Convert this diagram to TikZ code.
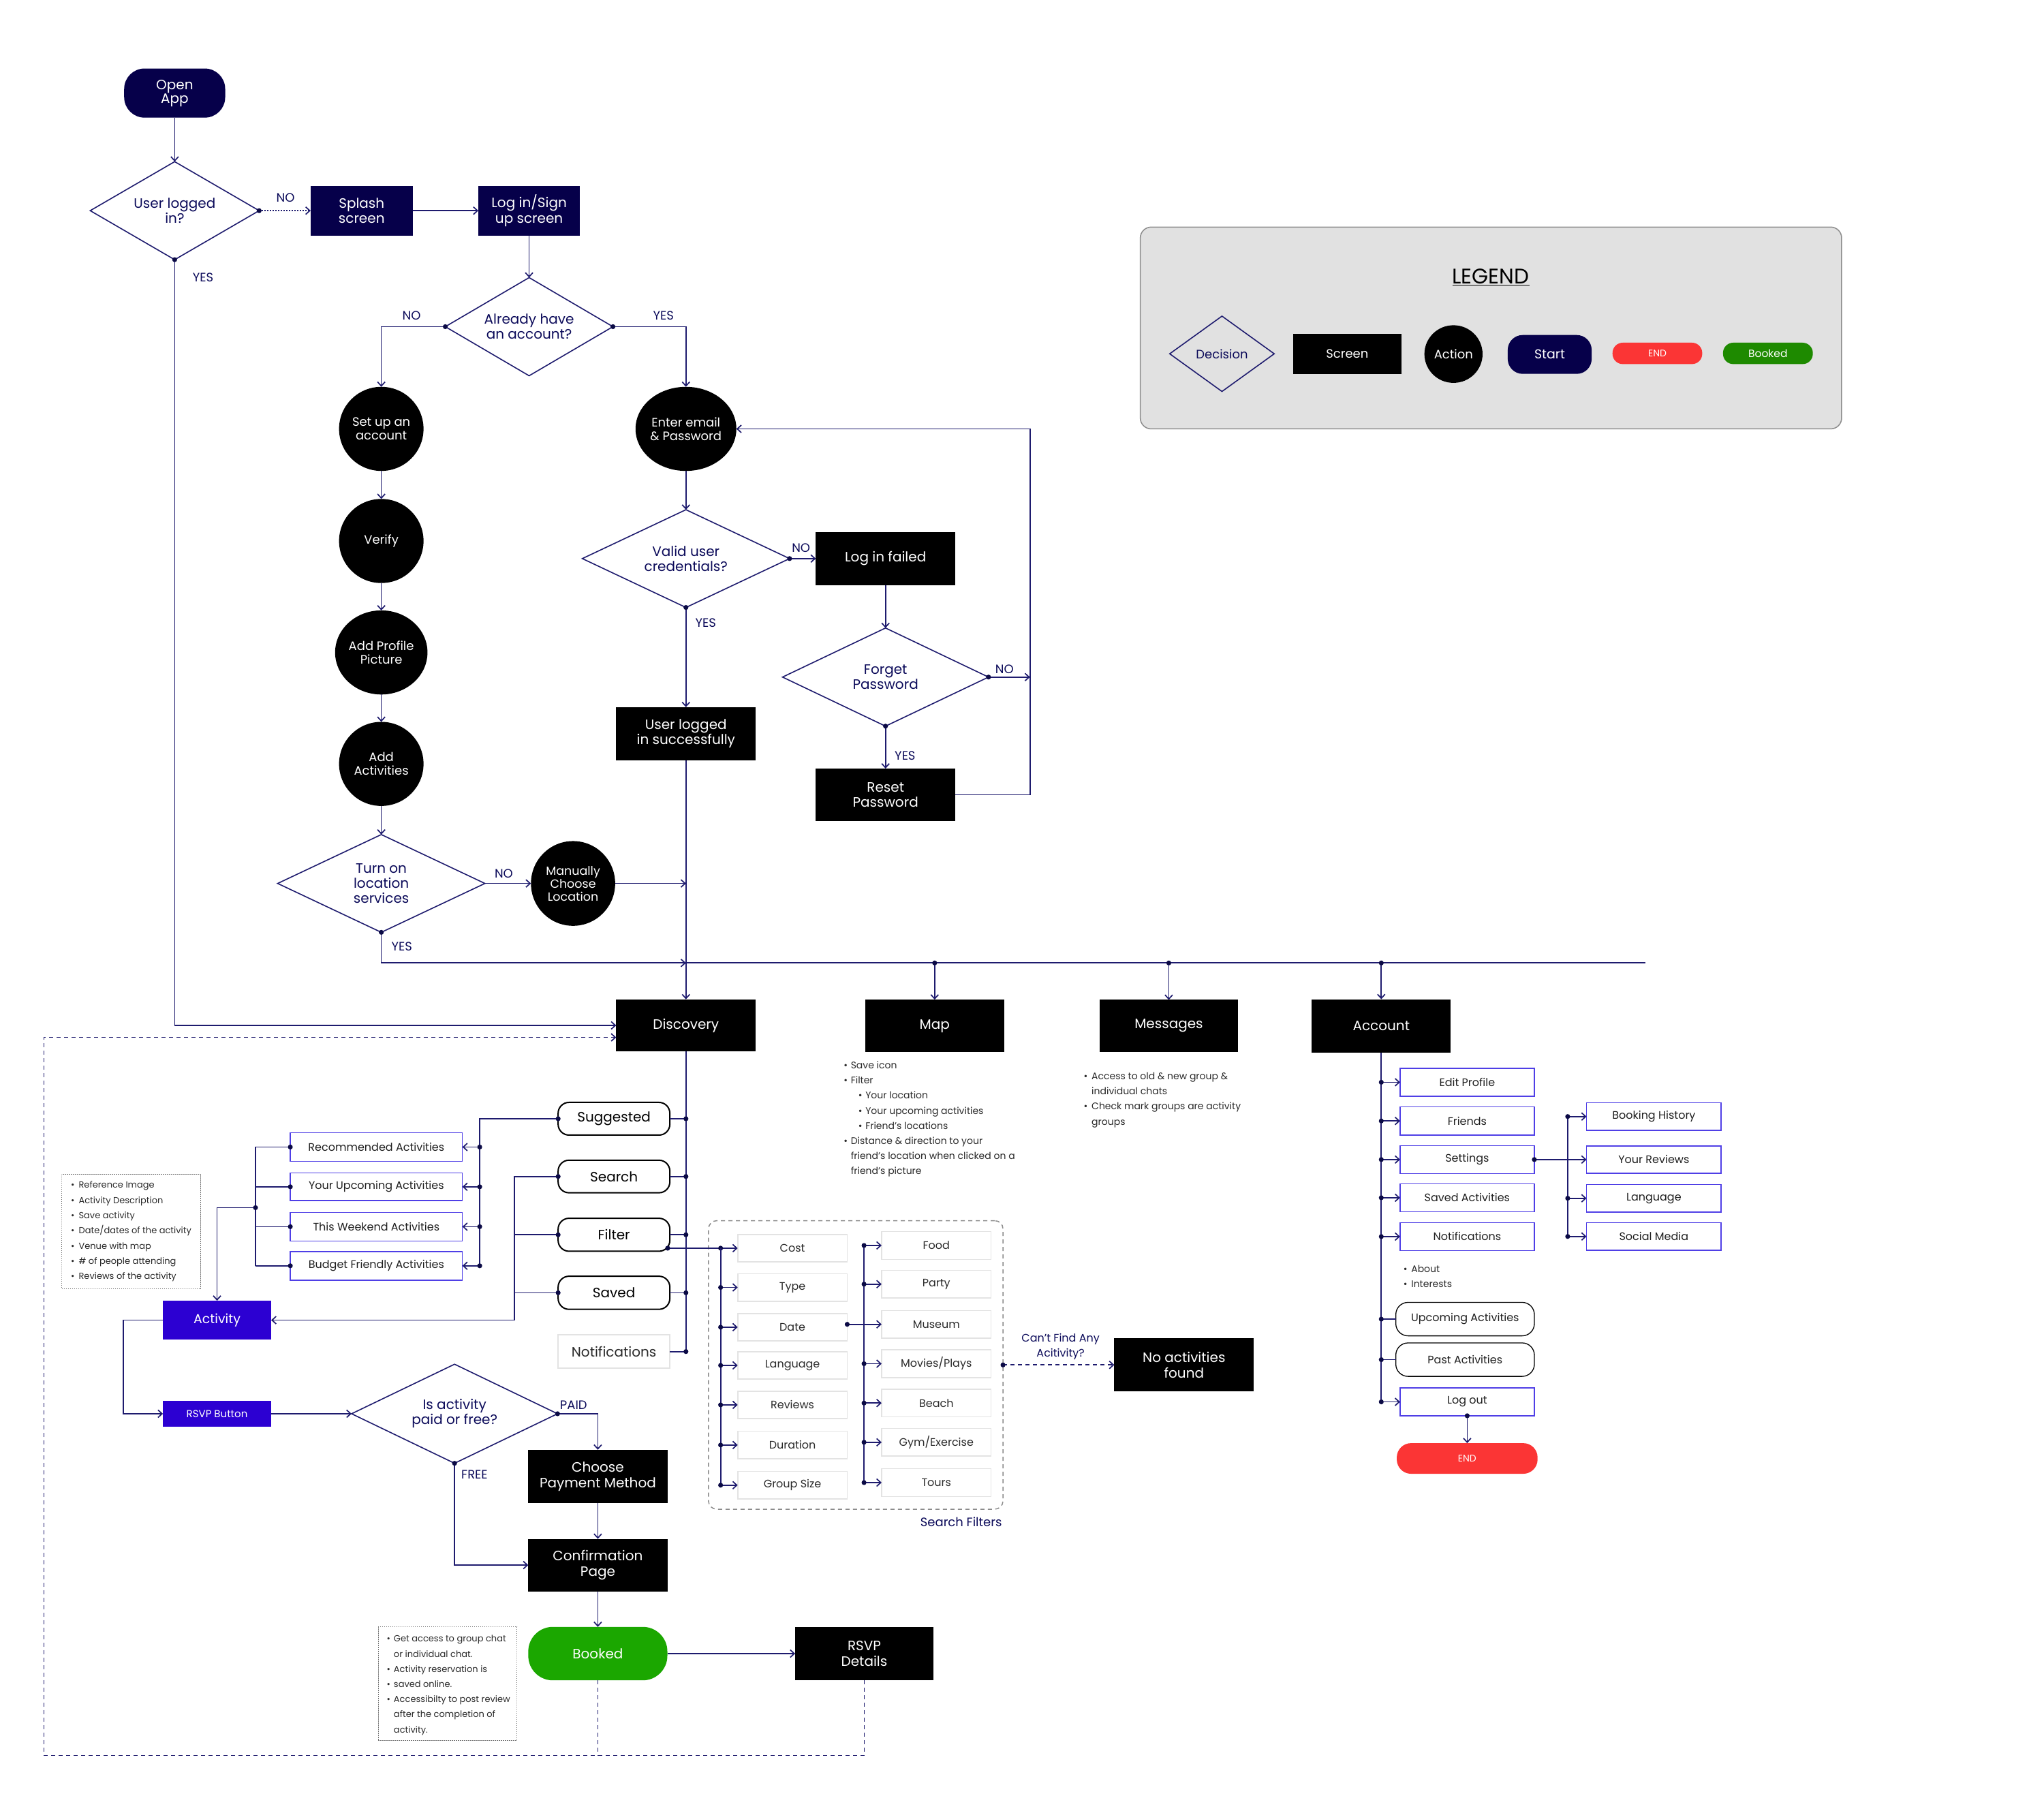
\documentclass[tikz,border=0pt]{standalone}
\usepackage{fontspec}
\setmainfont{Poppins}
\usetikzlibrary{shapes.geometric,arrows.meta,calc}

\definecolor{navy}{HTML}{06004A}
\definecolor{linec}{HTML}{1E1B6E}
\definecolor{dotc}{HTML}{0B0A45}
\definecolor{labc}{HTML}{0C0B5A}
\definecolor{violetfill}{HTML}{2C00D2}
\definecolor{purpleb}{HTML}{4F3FE6}
\definecolor{endred}{HTML}{FB3535}
\definecolor{bookg}{HTML}{1BA700}
\definecolor{legg}{HTML}{1E8A00}
\definecolor{leggray}{HTML}{E1E1E1}
\definecolor{legedge}{HTML}{8C8C8C}
\definecolor{filtgray}{HTML}{E3E3E3}
\definecolor{notetext}{HTML}{2A2A2A}

% junction dot
\newcommand\jd[1]{\fill[dotc] (#1) circle (3.6pt);}
% bullet and empty bullet slot for the note lists
\newcommand\bl[1][11pt]{\makebox[#1][l]{\textbullet}}
\newcommand\bi[1][11pt]{\makebox[#1][l]{}}

\tikzset{
  sz/.style 2 args={minimum width=#1*1.9133pt, minimum height=#2*1.9133pt},
  fs/.style 2 args={font=\fontsize{#1}{#2}\selectfont},
  nb/.style={inner sep=0pt, outer sep=0pt, align=center},
  scr/.style={nb, rectangle, fill=black, text=white, fs={20}{22.5}},
  startn/.style={nb, rectangle, rounded corners=30pt, fill=navy, text=white, fs={20}{20}},
  dec/.style={nb, diamond, draw=linec, line width=1.6pt, text=labc, fs={20}{22}},
  actn/.style={nb, ellipse, fill=black, text=white, fs={18}{20}},
  lab/.style={inner sep=0pt, text=labc, fs={18}{18}},
  tabn/.style={nb, rectangle, rounded corners=16pt, draw=black, line width=2pt, fill=white, text=black, fs={20}{20}},
  pbox/.style={nb, rectangle, draw=purpleb, line width=1.5pt, fill=white, text=black!88, fs={16}{16}},
  gbox/.style={nb, rectangle, draw=filtgray, line width=1.6pt, fill=white, text=notetext, fs={16}{16}},
  vbox/.style={nb, rectangle, fill=violetfill, text=white},
  ovbox/.style={nb, rectangle, rounded corners=18pt, draw=black, line width=1.3pt, fill=white, text=black!88, fs={16}{16}},
  note/.style={inner sep=0pt, outer sep=0pt, align=left, text=notetext, anchor=north west},
  notebox/.style={nb, rectangle, draw=black!55, line width=1pt, dash pattern=on 1.5pt off 1.5pt},
  ln/.style={draw=linec, line width=1.7pt},
  tip/.style={-{Straight Barb[length=6pt,width=11pt]}},
  arr/.style={ln, tip},
  dotl/.style={ln, dash pattern=on 2pt off 2pt},
  dashnav/.style={ln, dash pattern=on 6pt off 5pt},
}

\begin{document}
\begin{tikzpicture}[x=1.9133pt, y=-1.9133pt]
\useasboundingbox (0,0) rectangle (1568,1389);
\fill[white] (0,0) rectangle (1568,1389);

% ---------------- legend ----------------
\node[nb, rectangle, rounded corners=16pt, fill=leggray, draw=legedge, line width=1.5pt, sz={538}{154.8}] (legend) at (1143.75,251.6) {};
\node[inner sep=0pt, fs={31}{31}, text=black] (legtitle) at (1143.6,212.7) {\underline{LEGEND}};
\node[dec, sz={80.2}{57.8}, aspect=1.388, fs={18}{18}] (ldec) at (937.4,271.4) {Decision};
\node[scr, sz={83}{30.7}, fs={18}{18}] (lscr) at (1033.5,271.5) {Screen};
\node[actn, sz={44.6}{44.2}, fs={18}{18}] (lact) at (1115,271.6) {Action};
\node[startn, rounded corners=22pt, sz={64.4}{29.8}, fs={19}{19}] (lstart) at (1188.8,271.9) {Start};
\node[nb, rectangle, rounded corners=15pt, fill=endred, text=white, sz={68.8}{16.4}, fs={14}{14}] (lend) at (1271.4,271.1) {END};
\node[nb, rectangle, rounded corners=15pt, fill=legg, text=white, sz={68.9}{16.4}, fs={15.5}{15.5}] (lbook) at (1356.2,271.1) {Booked};

% ---------------- sign-in flow ----------------
\node[startn, sz={77.5}{37.7}] (open) at (134,71.4) {Open\\App};
\node[dec, sz={129.6}{75.2}, aspect=1.723] (d1) at (134,161.6) {User logged\\in?};
\node[scr, fill=navy, sz={78.2}{38}] (splash) at (277.4,161.6) {Splash\\screen};
\node[scr, fill=navy, sz={77.9}{38}] (login) at (405.9,161.6) {Log in/Sign\\up screen};
\node[dec, sz={128.6}{75.3}, aspect=1.708] (d2) at (405.9,250.6) {Already have\\an account?};

\node[actn, sz={64.8}{64.5}] (setup) at (292.5,329) {Set up an\\account};
\node[actn, sz={64.8}{64.5}] (verify) at (292.5,415) {Verify};
\node[actn, sz={64.8}{64.5}] (addpic) at (292.5,500.5) {Add Profile\\Picture};
\node[actn, sz={64.8}{64.5}] (addact) at (292.5,586) {Add\\Activities};
\node[dec, sz={159}{75}, aspect=2.12] (d3) at (292.5,677.7) {Turn on\\location\\services};
\node[actn, sz={64.6}{65}, fs={17.5}{19}] (manual) at (439.6,677.7) {Manually\\Choose\\Location};

\node[actn, sz={64.6}{64.5}] (enter) at (526.2,329) {Enter email\\\& Password};
\node[dec, sz={159}{75}, aspect=2.12] (d4) at (526.2,428.5) {Valid user\\credentials?};
\node[scr, sz={107}{40.6}] (failed) at (679.3,428.5) {Log in failed};
\node[dec, sz={158}{75.3}, aspect=2.098] (d5) at (679.3,519.4) {Forget\\Password};
\node[scr, sz={107}{40.3}] (reset) at (679.3,609.7) {Reset\\Password};
\node[scr, sz={107}{40.7}] (success) at (526.2,562.8) {User logged\\in successfully};

\node[lab] (l1) at (219,151.9) {NO};
\node[lab] (l2) at (155.8,213) {YES};
\node[lab] (l3) at (315.7,242.2) {NO};
\node[lab] (l4) at (509,242.2) {YES};
\node[lab] (l5) at (614.5,420.3) {NO};
\node[lab] (l6) at (541.3,477.7) {YES};
\node[lab] (l7) at (770.6,513.4) {NO};
\node[lab] (l8) at (694.3,579.6) {YES};
\node[lab] (l9) at (386.5,670.4) {NO};
\node[lab] (l10) at (308.3,726.1) {YES};

% ---------------- main screens ----------------
\node[scr, sz={107}{40}] (disc) at (526.2,786.6) {Discovery};
\node[scr, sz={106.5}{40.4}] (map) at (717,787) {Map};
\node[scr, sz={106}{40}] (msgs) at (896.6,787) {Messages};
\node[scr, sz={106.5}{41}] (acct) at (1059.6,787) {Account};

\coordinate (busL) at (526.2,738.7);
\coordinate (busR) at (1262,738.7);
\coordinate (loopc) at (790.1,329);
\coordinate (fpno) at (790.1,519.4);
\coordinate (mjoin) at (526.2,677.7);

\draw[arr] (open.south) -- (d1.north);
\draw[dotl, tip] (d1.east) -- (splash.west); \jd{d1.east}
\draw[arr] (splash.east) -- (login.west);
\draw[arr] (login.south) -- (d2.north);
\draw[arr] (d2.west) -| (setup.north); \jd{d2.west}
\draw[arr] (d2.east) -| (enter.north); \jd{d2.east}
\draw[arr] (setup.south) -- (verify.north);
\draw[arr] (verify.south) -- (addpic.north);
\draw[arr] (addpic.south) -- (addact.north);
\draw[arr] (addact.south) -- (d3.north);
\draw[arr] (enter.south) -- (d4.north);
\draw[arr] (d4.east) -- (failed.west); \jd{d4.east}
\draw[arr] (d4.south) -- (success.north); \jd{d4.south}
\draw[arr] (failed.south) -- (d5.north);
\draw[arr] (d5.east) -- (fpno); \jd{d5.east}
\draw[arr] (d5.south) -- (reset.north); \jd{d5.south}
\draw[arr] (reset.east) -| (loopc) -- (enter.east);
\draw[arr] (success.south) -- (disc.north);
\draw[arr] (d3.east) -- (manual.west);
\draw[arr] (manual.east) -- (mjoin);
\draw[arr] (d3.south) |- (busL); \jd{d3.south}
\draw[ln] (busL) -- (busR);
\draw[arr] (busL -| map) -- (map.north); \jd{busL -| map}
\draw[arr] (busL -| msgs) -- (msgs.north); \jd{busL -| msgs}
\draw[arr] (busL -| acct) -- (acct.north); \jd{busL -| acct}
\draw[arr] (d1.south) |- (disc.west); \jd{d1.south}

% ---------------- notes under Map / Messages ----------------
\node[note, fs={14}{22.2}] (mapnotes) at (647.2,814.2)
  {\bl[10.5pt]Save icon\\
   \bl[10.5pt]Filter\\
   \bi[21.6pt]\bl[10.4pt]Your location\\
   \bi[21.6pt]\bl[10.4pt]Your upcoming activities\\
   \bi[21.6pt]\bl[10.4pt]Friend’s locations\\
   \bl[10.5pt]Distance \& direction to your\\
   \bi[10.5pt]friend’s location when clicked on a\\
   \bi[10.5pt]friend’s picture};
\node[note, fs={14}{22.2}] (msgnotes) at (831.4,822.7)
  {\bl[11.5pt]Access to old \& new group \&\\
   \bi[11.5pt]individual chats\\
   \bl[11.5pt]Check mark groups are activity\\
   \bi[11.5pt]groups};

% ---------------- discovery branch ----------------
\node[tabn, sz={85.7}{25.1}] (sugg) at (471,858.2) {Suggested};
\node[tabn, sz={85.7}{25}] (search) at (471,902.5) {Search};
\node[tabn, sz={85.7}{25.3}] (filt) at (471,947.2) {Filter};
\node[tabn, sz={85.7}{25.4}] (saved) at (471,991.7) {Saved};
\node[gbox, sz={85.7}{25.5}, fs={20}{20}] (dnotif) at (471,1036.8) {Notifications};

\node[pbox, sz={132}{21.7}] (rec) at (288.7,879.9) {Recommended Activities};
\node[pbox, sz={132}{21.3}] (upc) at (288.7,910.4) {Your Upcoming Activities};
\node[pbox, sz={132}{22}] (wkd) at (288.7,941) {This Weekend Activities};
\node[pbox, sz={132}{22}] (bud) at (288.7,971) {Budget Friendly Activities};

\node[vbox, sz={83}{29.8}, fs={19}{19}] (act) at (166.5,1012.7) {Activity};
\node[vbox, sz={83}{19.8}, fs={15}{15}] (rsvp) at (166.5,1084.5) {RSVP Button};
\node[dec, sz={158}{76}, aspect=2.079] (d6) at (348.7,1084.5) {Is activity\\paid or free?};
\node[scr, sz={106.7}{41}] (choose) at (458.6,1132.6) {Choose\\Payment Method};
\node[scr, sz={106.7}{40.3}] (conf) at (458.6,1200.6) {Confirmation\\Page};
\node[nb, rectangle, rounded corners=36pt, fill=bookg, text=white, fs={20}{20}, sz={106.7}{41}] (booked) at (458.6,1268.5) {Booked};
\node[scr, sz={106}{41}] (rsvpd) at (663,1268.5) {RSVP\\Details};
\node[lab] (l11) at (440,1077.7) {PAID};
\node[lab] (l12) at (364,1131) {FREE};

\node[notebox, sz={106.6}{87.8}] (actnotes) at (100.7,944.9) {};
\node[note, fs={13}{22.3}] (actnotetext) at (54.4,906.3)
  {\bl[11.5pt]Reference Image\\
   \bl[11.5pt]Activity Description\\
   \bl[11.5pt]Save activity\\
   \bl[11.5pt]Date/dates of the activity\\
   \bl[11.5pt]Venue with map\\
   \bl[11.5pt]\# of people attending\\
   \bl[11.5pt]Reviews of the activity};

\node[notebox, sz={106.2}{87.4}] (bknotes) at (343.4,1291.7) {};
\node[note, fs={13}{22.2}] (bknotetext) at (296.7,1254.5)
  {\bl[10.3pt]Get access to group chat\\
   \bi[10.3pt]or individual chat.\\
   \bl[10.3pt]Activity reservation is\\
   \bl[10.3pt]saved online.\\
   \bl[10.3pt]Accessibilty to post review\\
   \bi[10.3pt]after the completion of\\
   \bi[10.3pt]activity.};

\coordinate (dvEnd) at (526.2,1036.8);
\draw[ln, line width=2.2pt] (disc.south) -- (dvEnd);
\foreach \n in {sugg,search,filt,saved,dnotif}{
  \draw[ln] (\n.east) -- (\n.east -| dvEnd); \jd{\n.east -| dvEnd}
}
\coordinate (sv) at (368,858.2);
\coordinate (svB) at (368,971);
\draw[ln] (sugg.west) -- (sv) -- (svB); \jd{sugg.west}
\coordinate (lvT) at (196,879.9);
\coordinate (lvB) at (196,971);
\draw[ln] (lvT) -- (lvB);
\foreach \n in {rec,upc,wkd,bud}{
  \draw[arr] (sv |- \n.east) -- (\n.east); \jd{sv |- \n.east}
  \draw[ln] (lvT |- \n.west) -- (\n.west); \jd{\n.west}
}
\coordinate (lvJ) at (196,926.4);
\draw[arr] (lvJ) -| (act.north); \jd{lvJ}

\coordinate (sx) at (394.6,1012.7);
\draw[arr] (search.west) -| (sx) -- (act.east); \jd{search.west}
\draw[ln] (filt.west) -- (filt.west -| sx); \jd{filt.west}
\draw[ln] (saved.west) -- (saved.west -| sx); \jd{saved.west}

\coordinate (ax) at (94.5,1012.7);
\draw[arr] (act.west) -- (ax) |- (rsvp.west);
\draw[arr] (rsvp.east) -- (d6.west);
\draw[arr] (d6.east) -| (choose.north); \jd{d6.east}
\draw[arr] (d6.south) |- (conf.west); \jd{d6.south}
\draw[arr] (choose.south) -- (conf.north);
\draw[arr] (conf.south) -- (booked.north);
\draw[arr] (booked.east) -- (rsvpd.west);

% dashed return path to Discovery
\coordinate (dBR) at (663,1346.7);
\coordinate (dBL) at (33.7,1346.7);
\coordinate (dTL) at (33.7,795.8);
\draw[dashnav, tip] (rsvpd.south) -- (dBR) -- (dBL) -- (dTL) -- (disc.west |- dTL);
\draw[dashnav] (booked.south) -- (booked.south |- dBR);

% ---------------- search filters ----------------
\node[nb, rectangle, rounded corners=12pt, draw=black!45, line width=1.5pt, dash pattern=on 6pt off 5pt, sz={225.9}{221.3}] (fbox) at (656.45,1047.05) {};
\node[gbox, sz={84}{21.1}] (cost) at (607.9,957.5) {Cost};
\node[gbox, sz={84}{21.1}] (type) at (607.9,987.6) {Type};
\node[gbox, sz={84}{21.1}] (date) at (607.9,1018.1) {Date};
\node[gbox, sz={84}{21.1}] (lang) at (607.9,1047.4) {Language};
\node[gbox, sz={84}{21.1}] (rev) at (607.9,1077.7) {Reviews};
\node[gbox, sz={84}{21.1}] (dur) at (607.9,1108.5) {Duration};
\node[gbox, sz={84}{21.1}] (grp) at (607.9,1139.3) {Group Size};
\node[gbox, sz={84}{21.3}] (food) at (718.3,955.4) {Food};
\node[gbox, sz={84}{21.3}] (party) at (718.3,985.1) {Party};
\node[gbox, sz={84}{21.3}] (museum) at (718.3,1015.9) {Museum};
\node[gbox, sz={84}{21.3}] (movies) at (718.3,1046.1) {Movies/Plays};
\node[gbox, sz={84}{21.3}] (beach) at (718.3,1076.3) {Beach};
\node[gbox, sz={84}{21.3}] (gym) at (718.3,1106.4) {Gym/Exercise};
\node[gbox, sz={84}{21.3}] (tours) at (718.3,1137.3) {Tours};
\node[scr, sz={107}{40.7}] (noact) at (908.3,1047.05) {No activities\\found};
\node[lab, fs={16}{22}, align=center] (cantfind) at (813.6,1033.2) {Can’t Find Any\\Acitivity?};
\node[lab, fs={18}{18}] (sflab) at (737.3,1167.6) {Search Filters};

\coordinate (fsrc) at (512.2,957.5);
\coordinate (lcT) at (552.8,957.5);
\coordinate (lcB) at (552.8,1139.3);
\draw[arr] (fsrc) -- (cost.west); \jd{fsrc} \jd{lcT}
\draw[ln] (lcT) -- (lcB);
\foreach \n in {type,date,lang,rev,dur,grp}{
  \draw[arr] (lcT |- \n.west) -- (\n.west); \jd{lcT |- \n.west}
}
\coordinate (rcT) at (662.8,955.4);
\coordinate (rcB) at (662.8,1137.3);
\draw[ln] (rcT) -- (rcB);
\foreach \n in {food,party,movies,beach,gym,tours}{
  \draw[arr] (rcT |- \n.west) -- (\n.west); \jd{rcT |- \n.west}
}
\draw[arr] (date.east |- museum.west) -- (museum.west); \jd{date.east |- museum.west}
\draw[dashnav, tip] (fbox.east) -- (noact.west); \jd{fbox.east}

% ---------------- account branch ----------------
\node[pbox] [sz={103}{21.5}] (ep) at (1125.5,830.2) {Edit Profile};
\node[pbox] [sz={103}{21.5}] (fr) at (1125.5,859.9) {Friends};
\node[pbox] [sz={103}{21.5}] (st) at (1125.5,889.5) {Settings};
\node[pbox] [sz={103}{21.5}] (sa) at (1125.5,918.8) {Saved Activities};
\node[pbox] [sz={103}{21.5}] (nt) at (1125.5,948.6) {Notifications};
\node[ovbox, sz={106.3}{25.7}] (up) at (1123.9,1011.9) {Upcoming Activities};
\node[ovbox, sz={106.3}{25.7}] (pa) at (1123.9,1043) {Past Activities};
\node[pbox] [sz={103}{21.3}] (lo) at (1125.5,1075.4) {Log out};
\node[nb, rectangle, rounded corners=21pt, fill=endred, text=white, fs={14}{14}, sz={108}{23.5}] (endn) at (1125.5,1118.8) {END};
\node[pbox] [sz={103.3}{21}] (bh) at (1268.7,856.5) {Booking History};
\node[pbox] [sz={103.3}{21}] (yr) at (1268.7,889.5) {Your Reviews};
\node[pbox] [sz={103.3}{21}] (lg) at (1268.7,919.2) {Language};
\node[pbox] [sz={103.3}{21}] (sm) at (1268.7,948.5) {Social Media};
\node[note, fs={14}{22}] (acctnotes) at (1076.6,970.6)
  {\bl[11.5pt]About\\
   \bl[11.5pt]Interests};

\coordinate (avEnd) at (1059.6,1075.4);
\draw[ln, line width=2.2pt] (acct.south) -- (avEnd);
\foreach \n in {ep,fr,st,sa,nt,lo}{
  \draw[arr] (avEnd |- \n.west) -- (\n.west); \jd{avEnd |- \n.west}
}
\foreach \n in {up,pa}{
  \draw[ln] (avEnd |- \n.west) -- (\n.west); \jd{avEnd |- \n.west}
}
\draw[arr] (lo.south) -- (endn.north); \jd{lo.south}
\coordinate (rvT) at (1202.6,856.5);
\coordinate (rvB) at (1202.6,948.5);
\draw[ln] (rvT) -- (rvB);
\draw[arr] (st.east) -- (yr.west); \jd{st.east}
\foreach \n in {bh,lg,sm}{
  \draw[arr] (rvT |- \n.west) -- (\n.west); \jd{rvT |- \n.west}
}
\end{tikzpicture}
\end{document}
